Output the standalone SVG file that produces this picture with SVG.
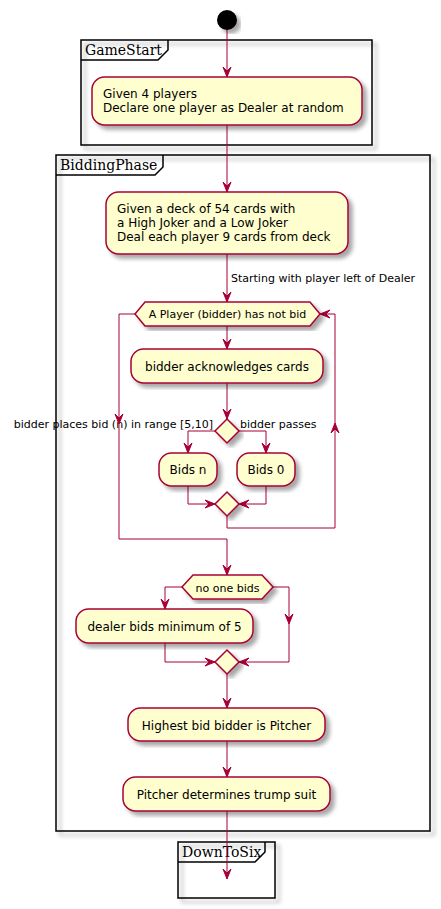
<svg xmlns="http://www.w3.org/2000/svg" width="441" height="909" viewBox="0 0 441 909">
<style>
.node{fill:#FEFECE;stroke:#A80036;stroke-width:1.5;filter:url(#sh)}
.frame{fill:none;stroke:#000;stroke-width:1.5;filter:url(#sh)}
.tab{fill:none;stroke:#000;stroke-width:1.5}
.edge{fill:none;stroke:#A80036;stroke-width:1}
.ah{fill:#A80036;stroke:#A80036;stroke-width:1}
.t12{font-family:"DejaVu Sans",Verdana,sans-serif;font-size:12px;fill:#000}
.t11{font-family:"DejaVu Sans",Verdana,sans-serif;font-size:11px;fill:#000}
.ft{font-family:"DejaVu Serif",serif;font-size:14px;fill:#000}
.c{text-anchor:middle}
</style>
<defs>
<filter id="sh" x="-10%" y="-10%" width="130%" height="130%">
<feGaussianBlur in="SourceAlpha" stdDeviation="2" result="b"/>
<feOffset in="b" dx="4" dy="4" result="o"/>
<feComponentTransfer in="o" result="o2"><feFuncA type="linear" slope="0.35"/></feComponentTransfer>
<feMerge><feMergeNode in="o2"/><feMergeNode in="SourceGraphic"/></feMerge>
</filter>
<path id="ah" d="M0,0 L-4,-10 L0,-6 L4,-10 Z"/>
</defs>

<g id="frames">
<g id="frame-gamestart">
<rect class="frame" x="81" y="40" width="291" height="105"/>
<path class="tab" d="M81,60 L158,60 L168,50 L168,40"/>
<text class="ft" x="85" y="55">GameStart</text>
</g>
<g id="frame-biddingphase">
<rect class="frame" x="56" y="155" width="374" height="676"/>
<path class="tab" d="M56,175 L155,175 L163,167 L163,155"/>
<text class="ft" x="60" y="170">BiddingPhase</text>
</g>
<g id="frame-downtosix">
<rect class="frame" x="178" y="842" width="97" height="56"/>
<path class="tab" d="M178,862 L255,862 L265,852 L265,842"/>
<text class="ft" x="182" y="857">DownToSix</text>
</g>
</g>

<g id="connectors">
<path class="edge" d="M227,30 V77"/>
<use href="#ah" class="ah" transform="translate(227,77)"/>
<path class="edge" d="M227,125 V192"/>
<use href="#ah" class="ah" transform="translate(227,192)"/>
<path class="edge" d="M227,254 V302"/>
<use href="#ah" class="ah" transform="translate(227,302)"/>
<text class="t11" x="231" y="282">Starting with player left of Dealer</text>
<path class="edge" d="M227,326 V349"/>
<use href="#ah" class="ah" transform="translate(227,349)"/>
<path class="edge" d="M227,383 V419"/>
<use href="#ah" class="ah" transform="translate(227,419)"/>
<path class="edge" d="M215,431 H188 V453"/>
<use href="#ah" class="ah" transform="translate(188,453)"/>
<path class="edge" d="M239,431 H266 V453"/>
<use href="#ah" class="ah" transform="translate(266,453)"/>
<text class="t11" x="213" y="428" text-anchor="end">bidder places bid (n) in range [5,10]</text>
<text class="t11" x="240" y="428">bidder passes</text>
<path class="edge" d="M188,486 V504 H215"/>
<use href="#ah" class="ah" transform="translate(215,504) rotate(-90)"/>
<path class="edge" d="M266,486 V504 H239"/>
<use href="#ah" class="ah" transform="translate(239,504) rotate(90)"/>
<path class="edge" d="M227,516 V528 H335 V314 H320"/>
<use href="#ah" class="ah" transform="translate(335,423) rotate(180)"/>
<use href="#ah" class="ah" transform="translate(320,314) rotate(90)"/>
<path class="edge" d="M135,314 H119 V539 H227 V575"/>
<use href="#ah" class="ah" transform="translate(119,424)"/>
<use href="#ah" class="ah" transform="translate(227,575)"/>
<path class="edge" d="M182,587 H165 V609"/>
<use href="#ah" class="ah" transform="translate(165,609)"/>
<path class="edge" d="M273,587 H289 V662 H239"/>
<use href="#ah" class="ah" transform="translate(289,624)"/>
<use href="#ah" class="ah" transform="translate(239,662) rotate(90)"/>
<path class="edge" d="M165,643 V662 H215"/>
<use href="#ah" class="ah" transform="translate(215,662) rotate(-90)"/>
<path class="edge" d="M227,674 V708"/>
<use href="#ah" class="ah" transform="translate(227,708)"/>
<path class="edge" d="M227,741 V777"/>
<use href="#ah" class="ah" transform="translate(227,777)"/>
<path class="edge" d="M227,811 V879"/>
<use href="#ah" class="ah" transform="translate(227,879)"/>
</g>

<g id="start">
<circle cx="227" cy="20" r="10" fill="#000" filter="url(#sh)"/>
</g>
<g id="given-players">
<rect class="node" x="92" y="77" width="270" height="48" rx="12.5"/>
<text class="t12" x="103" y="98">Given 4 players</text>
<text class="t12" x="103" y="112">Declare one player as Dealer at random</text>
</g>
<g id="deck">
<rect class="node" x="106" y="192" width="242" height="62" rx="12.5"/>
<text class="t12" x="117" y="212.5">Given a deck of 54 cards with</text>
<text class="t12" x="117" y="226.5">a High Joker and a Low Joker</text>
<text class="t12" x="117" y="240.5">Deal each player 9 cards from deck</text>
</g>
<g id="while-not-bid">
<polygon class="node" points="135,314 145,302 310,302 320,314 310,326 145,326"/>
<text class="t11 c" x="227.5" y="318">A Player (bidder) has not bid</text>
</g>
<g id="acknowledge">
<rect class="node" x="131" y="349" width="192" height="34" rx="12.5"/>
<text class="t12 c" x="227" y="371">bidder acknowledges cards</text>
</g>
<g id="bid-decision">
<polygon class="node" points="227,419 239,431 227,443 215,431"/>
</g>
<g id="bids-n">
<rect class="node" x="159" y="453" width="58" height="33" rx="12.5"/>
<text class="t12 c" x="188" y="474">Bids n</text>
</g>
<g id="bids-0">
<rect class="node" x="237" y="453" width="58" height="33" rx="12.5"/>
<text class="t12 c" x="266" y="474">Bids 0</text>
</g>
<g id="bid-merge">
<polygon class="node" points="227,492 239,504 227,516 215,504"/>
</g>
<g id="no-one-bids">
<polygon class="node" points="182,587 193,575 262,575 273,587 262,599 193,599"/>
<text class="t11 c" x="227.5" y="591.5">no one bids</text>
</g>
<g id="dealer-bids">
<rect class="node" x="76" y="609" width="177" height="34" rx="12.5"/>
<text class="t12 c" x="164.5" y="631">dealer bids minimum of 5</text>
</g>
<g id="no-one-merge">
<polygon class="node" points="227,650 239,662 227,674 215,662"/>
</g>
<g id="highest-bid">
<rect class="node" x="128" y="708" width="197" height="33" rx="12.5"/>
<text class="t12 c" x="226.5" y="729.5">Highest bid bidder is Pitcher</text>
</g>
<g id="trump-suit">
<rect class="node" x="123" y="777" width="207" height="34" rx="12.5"/>
<text class="t12 c" x="226.5" y="798.5">Pitcher determines trump suit</text>
</g>
</svg>
